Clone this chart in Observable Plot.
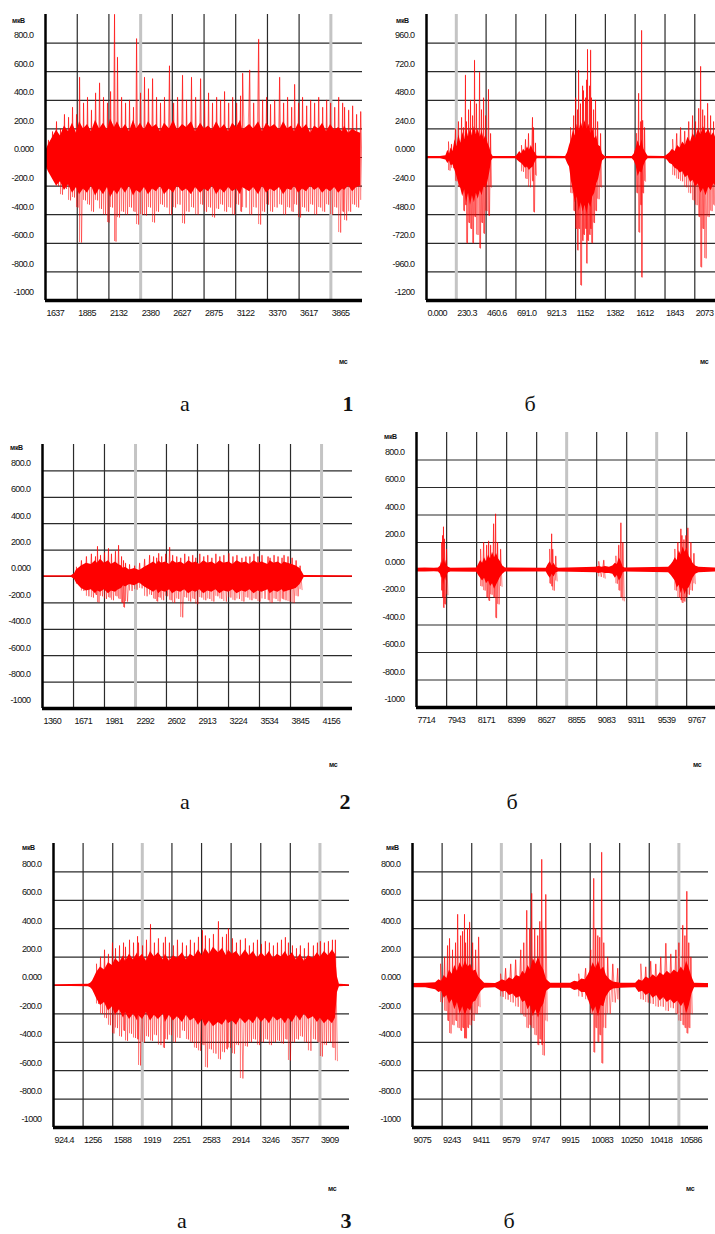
<!DOCTYPE html>
<html><head><meta charset="utf-8">
<script src="https://cdn.jsdelivr.net/npm/d3@7"></script>
<script src="https://cdn.jsdelivr.net/npm/@observablehq/plot@0.6"></script>
<style>
body{margin:0;background:#fff;width:715px;height:1234px;position:relative;overflow:hidden;}
.panel{position:absolute;}
.panel svg text{letter-spacing:-0.6px;}
.unit{position:absolute;font-family:"Liberation Sans",sans-serif;font-size:7px;font-weight:bold;line-height:8px;color:#111;letter-spacing:-0.3px;}
.cap{position:absolute;font-family:"Liberation Serif","DejaVu Serif",serif;font-size:22px;line-height:22px;color:#111;transform:translate(-50%,-50%);}
</style></head><body>
<script>
// ---------- tick labels ----------
const yLabels1000 = ["800.0","600.0","400.0","200.0","0.000","-200.0","-400.0","-600.0","-800.0","-1000"];
const yLabels1200 = ["960.0","720.0","480.0","240.0","0.000","-240.0","-480.0","-720.0","-960.0","-1200"];
const x1a = ["1637","1885","2132","2380","2627","2875","3122","3370","3617","3865"];
const x1b = ["0.000","230.3","460.6","691.0","921.3","1152","1382","1612","1843","2073"];
const x2a = ["1360","1671","1981","2292","2602","2913","3224","3534","3845","4156"];
const x2b = ["7714","7943","8171","8399","8627","8855","9083","9311","9539","9767"];
const x3a = ["924.4","1256","1588","1919","2251","2583","2914","3246","3577","3909"];
const x3b = ["9075","9243","9411","9579","9747","9915","10083","10250","10418","10586"];

// ---------- panel 1а (samples: time, spike top, spike bottom, dense-band top, dense-band bottom) ----------
const p1a_t  = [1637,
  1660,1692,1723,1754,1785,1817,1848,1879,1903,1934,
  1965,1996,2028,2059,2090,2121,2145,2176,2199,2231,
  2262,2293,2324,2348,2379,2410,2441,2473,2504,2535,
  2566,2605,2637,2668,2707,2738,2777,2809,2848,2879,
  2910,2941,2973,3004,3035,3067,3098,3129,3160,3176,
  3231,3262,3301,3332,3363,3394,3426,3465,3496,3527,
  3559,3582,3613,3644,3676,3707,3738,3770,3801,3832,
  3863,3895,3926,3957,3972,4004,4035,4066,4098];
const p1a_hi = [80,
  120,180,250,200,300,280,350,300,560,380,
  420,330,450,520,420,380,460,1000,700,420,
  380,400,350,830,450,560,480,550,420,380,
  420,640,380,420,574,400,560,420,550,400,
  450,380,420,400,460,380,420,380,430,588,
  610,380,826,400,420,370,400,560,380,420,
  350,510,380,420,360,400,380,420,350,400,
  380,350,420,380,350,330,360,300,320];
const p1a_lo = [-80,
  -100,-150,-200,-260,-220,-300,-280,-350,-595,-300,
  -330,-380,-300,-360,-400,-455,-350,-588,-420,-380,
  -400,-350,-380,-469,-400,-406,-350,-455,-380,-330,
  -350,-400,-350,-330,-462,-380,-350,-400,-330,-380,
  -350,-420,-360,-330,-380,-350,-400,-330,-380,-350,
  -400,-350,-469,-380,-330,-380,-350,-330,-400,-350,
  -380,-330,-420,-350,-380,-330,-400,-350,-380,-330,
  -400,-350,-525,-380,-440,-380,-330,-350,-300];
const p1a_chi = [40,
  90,140,190,150,220,180,240,170,250,200,
  230,180,260,200,240,190,270,210,250,190,
  230,180,260,200,240,190,250,210,230,180,
  240,200,260,190,230,210,250,180,240,200,
  220,190,250,200,230,180,240,210,260,190,
  230,200,250,180,240,210,230,190,250,200,
  220,180,240,200,230,170,220,200,240,180,
  230,190,210,180,220,170,200,180,170];
const p1a_clo = [-50,
  -100,-150,-200,-170,-230,-190,-250,-210,-260,-220,
  -250,-200,-270,-220,-260,-210,-280,-230,-260,-210,
  -250,-200,-270,-230,-250,-210,-260,-220,-240,-200,
  -260,-220,-250,-200,-240,-220,-260,-210,-250,-220,
  -240,-200,-260,-220,-250,-210,-240,-220,-260,-210,
  -240,-210,-260,-200,-250,-220,-240,-210,-260,-220,
  -230,-200,-250,-220,-240,-200,-230,-210,-250,-220,
  -240,-210,-250,-220,-230,-200,-240,-210,-200];

// ---------- panel 1б ----------
const p1b_t  = [170,193,224,247,271,286,301,309,325,340,356,371,386,410,425,441,456,479,495,734,765,788,819,827,842,1113,1137,1152,1167,1175,1190,1206,1213,1229,1237,1244,1260,1268,1275,1291,1306,1322,1345,1623,1639,1655,1662,1670,1685,1902,1933,1963,1995,2026,2056,2079,2103,2118,2134,2149,2172,2195,2218];
const p1b_hi = [130,110,240,300,335,250,690,300,400,480,350,815,450,714,400,500,350,570,200,100,150,200,335,250,120,250,350,500,400,730,450,600,560,500,650,906,600,900,500,400,480,300,200,200,537,300,1065,310,250,150,200,250,220,300,350,300,411,763,400,350,453,350,300];
const p1b_lo = [-110,-90,-200,-250,-280,-450,-400,-720,-550,-600,-720,-500,-650,-763,-550,-640,-450,-490,-250,-120,-180,-250,-200,-460,-150,-300,-450,-600,-780,-600,-1074,-700,-650,-600,-890,-700,-650,-600,-720,-550,-450,-350,-250,-300,-630,-400,-1007,-300,-200,-150,-180,-200,-250,-300,-360,-400,-500,-922,-600,-847,-500,-450,-400];
const p1b_ct  = [0,108,
  150,165,178,190,205,220,235,250,265,280,
  295,310,325,340,355,370,385,400,415,430,
  445,460,475,490,502,515,
  690,705,720,735,750,765,780,795,810,825,840,855,
  1075,1090,1105,1120,1135,1150,1165,1180,1195,1210,
  1225,1240,1255,1270,1285,1300,1315,1330,1345,1360,
  1380,
  1590,1605,1620,1635,1650,1665,1680,1695,1712,
  1840,1860,1880,1900,1920,1940,1960,1980,2000,2020,
  2040,2060,2080,2100,2120,2140,2160,2180,2200,2220,
  2233];
const p1b_chi = [8,8,
  15,60,30,80,50,150,90,190,120,210,
  150,240,170,250,180,260,190,240,170,220,
  150,190,120,80,30,8,
  8,25,50,30,70,50,90,60,100,60,40,10,
  8,40,100,150,230,180,280,220,300,240,
  310,230,280,200,250,160,180,100,90,30,
  8,
  8,30,80,140,90,150,70,40,10,
  8,20,40,70,50,100,80,130,100,170,
  130,200,160,240,190,260,200,240,180,210,
  170];
const p1b_clo = [-10,-10,
  -20,-50,-30,-70,-60,-110,-160,-220,-260,-330,
  -270,-380,-300,-400,-320,-380,-300,-350,-280,-320,
  -240,-260,-200,-120,-30,-10,
  -10,-25,-40,-50,-70,-90,-80,-110,-90,-80,-40,-10,
  -10,-50,-80,-200,-280,-380,-330,-450,-380,-460,
  -400,-470,-380,-420,-330,-300,-220,-180,-100,-30,
  -10,
  -10,-30,-70,-160,-120,-130,-70,-30,-10,
  -10,-20,-50,-60,-90,-100,-130,-120,-170,-150,
  -210,-190,-250,-220,-300,-260,-320,-250,-280,-220,
  -240];

// ---------- panel 2а ----------
const p2a_t  = [1700,1750,1800,1850,1891,1911,1941,1981,2021,2051,2091,2122,2152,2172,2192,2232,2283,2333,2383,2433,2473,2504,2524,2554,2594,2634,2664,2705,2745,2785,2825,2865,2896,2936,2976,3016,3057,3097,3137,3177,3227,3268,3308,3358,3398,3438,3479,3519,3559,3620,3640,3680,3720,3760,3780,3820,3861,3901,3941];
const p2a_hi = [70,120,150,170,150,227,160,180,212,170,190,235,150,120,100,90,80,100,130,160,150,140,174,150,170,220,160,150,140,170,150,160,140,170,150,160,140,170,150,160,174,150,160,140,150,150,170,150,160,150,140,160,150,140,160,150,140,120,80];
const p2a_lo = [-60,-110,-150,-160,-140,-197,-150,-170,-160,-180,-150,-170,-200,-235,-190,-110,-100,-90,-150,-140,-170,-190,-160,-180,-150,-180,-200,-170,-310,-160,-190,-170,-210,-160,-180,-170,-190,-150,-170,-190,-160,-180,-170,-190,-160,-180,-170,-190,-170,-180,-200,-170,-190,-170,-180,-190,-200,-150,-100];
const p2a_ct  = [1360,1649,1680,
  1700,1750,1800,1850,1891,1911,1941,1981,2021,2051,
  2091,2122,2152,2172,2192,2232,2283,2333,2383,2433,
  2473,2504,2524,2554,2594,2634,2664,2705,2745,2785,
  2825,2865,2896,2936,2976,3016,3057,3097,3137,3177,
  3227,3268,3308,3358,3398,3438,3479,3519,3559,3620,
  3640,3680,3720,3760,3780,3820,3861,3901,3941,
  3965,3981,4466];
const p2a_chi = [6,6,20,
  50,80,100,90,120,100,130,100,120,90,
  110,90,80,60,70,50,60,45,70,90,
  110,90,120,100,110,90,120,100,110,90,
  120,100,110,90,120,100,110,90,120,100,
  110,90,120,100,110,90,120,100,110,90,
  120,100,110,90,110,100,90,80,60,
  30,8,6];
const p2a_clo = [-6,-6,-20,
  -50,-90,-110,-100,-130,-110,-120,-100,-130,-110,
  -120,-100,-90,-70,-80,-60,-70,-50,-80,-100,
  -120,-100,-130,-110,-120,-100,-130,-110,-120,-100,
  -130,-110,-120,-100,-130,-110,-120,-100,-130,-110,
  -120,-100,-130,-110,-120,-100,-130,-110,-120,-100,
  -130,-110,-120,-100,-120,-110,-100,-90,-60,
  -30,-8,-6];

// ---------- panel 2б ----------
const p2b_t  = [7904,7912,7919,7927,7942,8201,8224,8247,8262,8277,8300,8315,8330,8353,8726,8741,8749,8772,9099,9137,9229,9251,9267,9282,9677,9700,9723,9731,9746,9761,9776,9799,9822];
const p2b_hi = [200,250,313,225,150,150,200,180,210,180,335,407,200,150,150,262,150,100,60,70,100,180,342,200,150,200,298,250,220,250,305,200,120];
const p2b_lo = [-150,-200,-276,-250,-180,-120,-150,-200,-225,-180,-200,-350,-250,-120,-100,-120,-150,-80,-50,-60,-100,-150,-200,-225,-150,-200,-220,-240,-230,-200,-180,-150,-100];
const p2b_ct  = [7714,7780,7850,7881,7896,7904,7912,7920,7928,7936,7944,7958,7975,
  8171,8186,8201,8216,8231,8246,8262,8277,8292,8307,8322,8338,8353,8370,8390,
  8700,8715,8730,8745,8760,8775,8795,
  9076,9100,9125,9150,9180,9206,9225,9240,9255,9270,9285,9300,
  9630,9650,9665,9680,9695,9710,9725,9740,9755,9770,9785,9800,9815,9835,9860,9989];
const p2b_chi = [12,14,12,14,30,60,40,90,50,70,30,20,12,
  14,40,70,50,90,60,110,80,130,90,120,80,60,30,14,
  12,40,60,30,50,20,12,
  20,25,20,25,20,30,50,40,90,60,20,14,
  20,40,60,90,70,140,110,170,130,160,100,80,50,30,20,14];
const p2b_clo = [-14,-14,-12,-14,-30,-60,-50,-110,-60,-80,-40,-20,-14,
  -16,-40,-60,-80,-60,-100,-80,-120,-100,-140,-110,-80,-50,-30,-14,
  -14,-40,-60,-30,-50,-20,-14,
  -20,-25,-20,-25,-25,-30,-60,-40,-80,-60,-20,-14,
  -20,-40,-60,-80,-130,-110,-170,-130,-180,-140,-130,-100,-60,-30,-20,-14];

// ---------- panel 3а ----------
const p3a_t  = [1406,1451,1496,1540,1585,1619,1664,1709,1731,1776,1821,1866,1877,1922,1966,2011,2055,2100,2156,2178,2223,2268,2313,2369,2414,2458,2503,2548,2593,2626,2671,2716,2772,2817,2862,2884,2929,2974,3018,3074,3119,3164,3209,3254,3298,3343,3388,3433,3478,3522,3556,3601,3646,3690,3735,3780,3836,3881,3914,3959,4004,4049,4082];
const p3a_hi = [150,200,250,220,300,260,280,300,270,320,300,345,300,280,320,430,300,330,300,340,300,280,320,300,280,320,300,340,387,350,330,360,450,340,360,400,330,300,320,330,280,300,320,290,310,300,280,300,320,338,300,280,260,280,260,300,280,300,310,300,310,320,320];
const p3a_lo = [-130,-200,-230,-280,-338,-300,-360,-320,-390,-340,-370,-380,-563,-400,-360,-390,-350,-420,-440,-380,-350,-400,-370,-320,-380,-400,-440,-460,-420,-577,-450,-480,-520,-470,-450,-440,-480,-420,-655,-430,-400,-380,-420,-400,-380,-420,-400,-390,-410,-380,-528,-400,-380,-360,-400,-460,-380,-400,-500,-420,-400,-440,-530];
const p3a_ct  = [924,1316,1340,1361,1384,
  1406,1451,1496,1540,1585,1619,1664,1709,1731,1776,
  1821,1866,1877,1922,1966,2011,2055,2100,2156,2178,
  2223,2268,2313,2369,2414,2458,2503,2548,2593,2626,
  2671,2716,2772,2817,2862,2884,2929,2974,3018,3074,
  3119,3164,3209,3254,3298,3343,3388,3433,3478,3522,
  3556,3601,3646,3690,3735,3780,3836,3881,3914,3959,
  4004,4049,4082,
  4105,4127,4240];
const p3a_chi = [6,8,15,30,60,
  90,130,110,160,140,190,160,210,170,220,
  180,230,190,220,170,240,200,230,180,220,
  170,210,190,230,180,220,200,250,210,260,
  220,270,230,260,210,250,220,240,200,250,
  210,240,190,230,200,240,190,220,200,240,
  200,230,180,220,170,210,190,230,200,240,
  210,250,220,
  60,8,6];
const p3a_clo = [-6,-8,-15,-30,-60,
  -90,-140,-120,-180,-150,-210,-170,-230,-190,-240,
  -200,-250,-210,-240,-190,-250,-210,-240,-200,-260,
  -210,-250,-220,-260,-210,-250,-230,-280,-240,-290,
  -250,-290,-260,-280,-240,-270,-250,-280,-230,-270,
  -240,-270,-220,-260,-230,-270,-220,-250,-230,-270,
  -230,-260,-210,-250,-200,-240,-220,-260,-230,-270,
  -240,-270,-230,
  -50,-8,-6];

// ---------- panel 3б ----------
const p3b_t  = [9234,9257,9274,9285,9302,9319,9331,9348,9359,9370,9376,9387,9399,9416,9433,9450,9575,9603,9632,9660,9689,9706,9723,9740,9751,9768,9785,9797,9808,9814,9831,10018,10057,10086,10103,10114,10126,10137,10148,10160,10182,10211,10239,10370,10398,10426,10455,10483,10512,10540,10569,10586,10608,10620,10631,10642,10654];
const p3b_hi = [150,200,280,330,250,300,500,350,380,500,300,400,445,300,250,340,80,120,150,180,250,300,528,400,648,400,350,450,887,400,640,80,120,250,753,400,350,338,937,300,200,150,120,150,130,170,150,200,296,220,250,300,423,350,662,300,200];
const p3b_lo = [-120,-180,-250,-338,-280,-250,-300,-320,-300,-373,-373,-300,-280,-250,-200,-150,-80,-100,-120,-150,-200,-220,-300,-280,-300,-350,-420,-380,-420,-493,-250,-80,-100,-200,-472,-300,-400,-350,-549,-300,-200,-120,-100,-100,-120,-130,-150,-150,-180,-160,-200,-250,-280,-300,-338,-300,-200];
const p3b_ct  = [9075,9150,
  9206,9225,9240,9255,9270,9285,9300,9315,9330,9345,
  9360,9375,9390,9405,9420,9435,9450,9465,9484,
  9546,9565,9585,9605,9625,9645,9665,9685,9700,9715,
  9730,9745,9760,9775,9790,9805,9820,9836,9859,
  9972,9995,10015,10035,10055,10070,10085,10100,10115,10130,
  10145,10160,10175,10195,10215,10256,
  10341,10360,10380,10400,10420,10440,10460,10480,10500,10520,
  10540,10560,10580,10600,10615,10630,10645,10660,10675,
  10739,10754];
const p3b_chi = [14,16,
  20,40,30,70,50,110,80,140,100,160,
  120,170,130,150,100,110,60,40,16,
  14,25,40,30,55,40,70,60,100,80,
  140,110,190,150,200,140,110,40,16,
  16,30,25,45,40,70,110,160,120,170,
  110,130,70,40,25,16,
  16,40,30,60,45,75,55,90,70,100,
  80,110,90,130,100,170,120,60,16,
  14,14];
const p3b_clo = [-16,-16,
  -30,-50,-40,-90,-70,-130,-100,-170,-120,-200,
  -150,-210,-160,-180,-120,-110,-70,-40,-20,
  -16,-30,-45,-40,-70,-60,-90,-80,-120,-110,
  -170,-140,-220,-170,-230,-160,-130,-40,-20,
  -20,-35,-30,-50,-50,-90,-140,-190,-150,-220,
  -140,-150,-80,-40,-25,-20,
  -16,-50,-40,-70,-55,-90,-70,-110,-85,-120,
  -100,-130,-110,-150,-120,-200,-140,-60,-16,
  -16,-16];

// ---------- drawing ----------
const FONT = '"Liberation Sans",Arial,sans-serif';

function zigzag(spikes) {
  // oscillating trace through each sample's peak and trough; broken at long quiet gaps
  const d = spikes.map((s, i) => i ? s.t - spikes[i - 1].t : Infinity).slice(1).sort((a, b) => a - b);
  const med = d[Math.floor(d.length / 2)];
  const pts = [];
  let seg = 0;
  spikes.forEach((s, i) => {
    const next = spikes[i + 1];
    const gap = next ? next.t - s.t : Infinity;
    const half = (gap < 3 * med ? gap : med) / 2;
    pts.push({t: s.t, v: s.hi, z: seg}, {t: s.t + half, v: s.lo, z: seg});
    if (gap >= 3 * med) seg++;
  });
  return pts;
}

function panel(c) {
  const spikes = c.t.map((t, i) => ({t, hi: c.hi[i], lo: c.lo[i]}));
  const core = c.ct.map((t, i) => ({t, hi: c.chi[i], lo: c.clo[i]}));
  const xt = c.xl.map(Number), yt = c.yl.map(Number);
  const xmap = new Map(xt.map((v, i) => [v, c.xl[i]]));
  const ymap = new Map(yt.map((v, i) => [v, c.yl[i]]));
  const grid = xt.slice(1).map((v, i) => ({v, gray: c.gray.includes(i + 1)}));
  const chart = Plot.plot({
    width: c.w, height: c.h,
    marginLeft: c.ml, marginRight: c.mr, marginTop: 14, marginBottom: c.mb,
    x: {domain: c.xd, axis: null},
    y: {domain: c.yd, axis: null},
    style: {fontFamily: FONT, fontSize: "9px", color: "#111", background: "transparent", overflow: "visible"},
    marks: [
      Plot.ruleY(yt.filter(v => v > c.yd[0]), {stroke: "#2b2b2b", strokeWidth: 1.2}),
      Plot.ruleX(grid.filter(d => !d.gray), {x: "v", stroke: "#2b2b2b", strokeWidth: 1.2}),
      Plot.ruleX(grid.filter(d => d.gray), {x: "v", stroke: "#c4c4c4", strokeWidth: 3}),
      Plot.areaY(core, {x: "t", y1: "lo", y2: "hi", fill: "#ff0000", clip: true}),
      Plot.line(zigzag(spikes), {x: "t", y: "v", z: "z", stroke: "#ff0000", strokeWidth: 0.8, strokeOpacity: 0.6, clip: true}),
      Plot.ruleX(spikes, {x: "t", y1: "lo", y2: "hi", stroke: "#ff0000", strokeOpacity: 0.55, strokeWidth: 1, clip: true}),
      Plot.ruleX([c.xd[0]], {stroke: "#000", strokeWidth: 2.5}),
      Plot.ruleY([c.yd[0]], {stroke: "#000", strokeWidth: 3.5}),
      Plot.axisX(xt, {anchor: "bottom", tickSize: 0, tickPadding: 9, textAnchor: "start", dx: 1, tickFormat: d => xmap.get(d)}),
      Plot.axisY(yt, {anchor: "left", tickSize: 0, tickPadding: 12, dy: -8, tickFormat: d => ymap.get(d)})
    ]
  });
  const div = document.createElement("div");
  div.className = "panel";
  div.style.left = c.left + "px";
  div.style.top = c.top + "px";
  div.appendChild(chart);
  document.body.appendChild(div);
}

panel({left: 0, top: 0, w: 365, h: 325, ml: 45, mr: 3, mb: 25, xd: [1637, 4112], yd: [-1000, 1000],
  xl: x1a, yl: yLabels1000, gray: [3, 9], t: p1a_t, hi: p1a_hi, lo: p1a_lo, ct: p1a_t, chi: p1a_chi, clo: p1a_clo});
panel({left: 380, top: 0, w: 335, h: 325, ml: 46, mr: 0, mb: 25, xd: [0, 2233], yd: [-1200, 1200],
  xl: x1b, yl: yLabels1200, gray: [1], t: p1b_t, hi: p1b_hi, lo: p1b_lo, ct: p1b_ct, chi: p1b_chi, clo: p1b_clo});
panel({left: 0, top: 430, w: 365, h: 303, ml: 42, mr: 13, mb: 25, xd: [1360, 4466], yd: [-1000, 1000],
  xl: x2a, yl: yLabels1000, gray: [3, 9], t: p2a_t, hi: p2a_hi, lo: p2a_lo, ct: p2a_ct, chi: p2a_chi, clo: p2a_clo});
panel({left: 370, top: 418, w: 345, h: 314, ml: 46, mr: 0, mb: 25, xd: [7714, 9986], yd: [-1000, 1000],
  xl: x2b, yl: yLabels1000, gray: [5, 8], t: p2b_t, hi: p2b_hi, lo: p2b_lo, ct: p2b_ct, chi: p2b_chi, clo: p2b_clo});
panel({left: 0, top: 829, w: 365, h: 323, ml: 53, mr: 16, mb: 25, xd: [924.4, 4240], yd: [-1000, 1000],
  xl: x3a, yl: yLabels1000, gray: [3, 9], t: p3a_t, hi: p3a_hi, lo: p3a_lo, ct: p3a_ct, chi: p3a_chi, clo: p3a_clo});
panel({left: 370, top: 829, w: 338, h: 323, ml: 42, mr: 0, mb: 25, xd: [9075, 10754], yd: [-1000, 1000],
  xl: x3b, yl: yLabels1000, gray: [3, 9], t: p3b_t, hi: p3b_hi, lo: p3b_lo, ct: p3b_ct, chi: p3b_chi, clo: p3b_clo});

// ---------- units and captions ----------
function label(cls, text, x, y, extra) {
  const d = document.createElement("div");
  d.className = cls;
  d.textContent = text;
  d.style.left = x + "px";
  d.style.top = y + "px";
  if (extra) Object.assign(d.style, extra);
  document.body.appendChild(d);
}
[[12, 17], [396, 17], [10, 444], [384, 433], [22, 844], [386, 844]].forEach(([x, y]) => label("unit", "мкВ", x, y));
[[339, 358], [700, 358], [329, 761], [693, 761], [328, 1185], [686, 1185]].forEach(([x, y]) => label("unit", "мс", x, y));
label("cap", "а", 185, 404); label("cap", "1", 348, 404, {fontWeight: "bold"}); label("cap", "б", 530, 404);
label("cap", "а", 185, 802); label("cap", "2", 345, 802, {fontWeight: "bold"}); label("cap", "б", 512, 802);
label("cap", "а", 182, 1221); label("cap", "3", 346, 1221, {fontWeight: "bold"}); label("cap", "б", 509, 1221);
</script>
</body></html>
